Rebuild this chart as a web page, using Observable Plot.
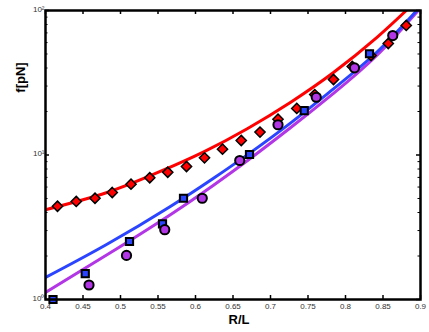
<!DOCTYPE html>
<html>
<head>
<meta charset="utf-8">
<script src="https://cdn.jsdelivr.net/npm/d3@7"></script>
<script src="https://cdn.jsdelivr.net/npm/@observablehq/plot@0.6"></script>
<style>
  html, body { margin: 0; padding: 0; background: #fff; }
  svg { display: block; }
</style>
</head>
<body>
<script>
// ---- data ----
// red diamonds
const diamondX = [0.416, 0.441, 0.466, 0.489, 0.514, 0.539, 0.563, 0.588, 0.612, 0.636, 0.661, 0.686, 0.710, 0.735, 0.759, 0.784, 0.809, 0.834, 0.857, 0.881];
const diamondF = [4.42, 4.77, 5.02, 5.50, 6.28, 6.96, 7.60, 8.33, 9.56, 10.97, 12.6, 14.4, 17.7, 21.0, 26.2, 33.3, 41.0, 48.8, 59.1, 78.8];
// blue-centred squares
const squareX = [0.410, 0.453, 0.512, 0.556, 0.584, 0.672, 0.745, 0.832];
const squareF = [1.0, 1.51, 2.52, 3.34, 5.02, 10.08, 20.3, 50.2];
// purple circles
const circleX = [0.458, 0.508, 0.559, 0.609, 0.659, 0.710, 0.761, 0.812, 0.863];
const circleF = [1.26, 2.02, 3.04, 5.02, 9.16, 16.2, 25.1, 40.1, 67.1];
// fitted curves
const redX = [0.400, 0.482, 0.553, 0.611, 0.669, 0.727, 0.784, 0.842, 0.881];
const redF = [4.18, 5.50, 7.69, 10.52, 15.2, 23.2, 37.2, 65.2, 100];
const blueX = [0.400, 0.482, 0.567, 0.624, 0.669, 0.727, 0.784, 0.842, 0.895];
const blueF = [1.42, 2.41, 4.42, 6.90, 10.02, 16.7, 28.7, 51.6, 100];
const purpleX = [0.400, 0.482, 0.567, 0.624, 0.669, 0.727, 0.784, 0.842, 0.897];
const purpleF = [1.12, 2.04, 3.88, 6.18, 9.12, 15.5, 26.7, 49.0, 100];
// ticks
const xTicks = [0.4, 0.45, 0.5, 0.55, 0.6, 0.65, 0.7, 0.75, 0.8, 0.85, 0.9];
const xTickLabels = ["0.4", "0.45", "0.5", "0.55", "0.6", "0.65", "0.7", "0.75", "0.8", "0.85", "0.9"];
const yMajor = [1, 10, 100];
const yMajorLabels = ["10\u2070", "10\u00B9", "10\u00B2"];
const yMinor = [2, 3, 4, 5, 6, 7, 8, 9, 20, 30, 40, 50, 60, 70, 80, 90];
const xLabel = "R/L";
const yLabel = "f[pN]";

const zip = (xs, ys) => xs.map((x, i) => ({x, y: ys[i]}));
const diamonds = zip(diamondX, diamondF);
const squares = zip(squareX, squareF);
const circles = zip(circleX, circleF);
const redLine = zip(redX, redF);
const blueLine = zip(blueX, blueF);
const purpleLine = zip(purpleX, purpleF);

const W = 429, H = 332;
const mL = 45, mR = 9, mT = 10, mB = 33;
const innerW = W - mL - mR, innerH = H - mT - mB;
const font = "'Liberation Sans', Arial, Helvetica, sans-serif";
const RED = "#ff0000", BLUE = "#2a44ff", PURPLE = "#b236e6";

const chart = Plot.plot({
  width: W, height: H,
  marginLeft: mL, marginRight: mR, marginTop: mT, marginBottom: mB,
  style: {fontFamily: font, background: "#fff"},
  x: {domain: [0.4, 0.9]},
  y: {type: "log", domain: [1, 100]},
  marks: [
    Plot.axisX({ticks: xTicks, tickSize: 0, tickPadding: 4, fontSize: 8, fill: "#333",
      tickFormat: (d) => xTickLabels[xTicks.indexOf(d)], label: null}),
    Plot.axisY({ticks: yMajor, tickSize: 0, tickPadding: 1, dy: -1.5, fontSize: 8, fill: "#333",
      tickFormat: (d) => yMajorLabels[yMajor.indexOf(d)], label: null}),
    // inward ticks
    Plot.ruleX(xTicks, {x: (d) => d, insetTop: innerH - 4, stroke: "black", strokeWidth: 1.5}),
    Plot.ruleX(xTicks, {x: (d) => d, insetBottom: innerH - 4, stroke: "black", strokeWidth: 1.5}),
    Plot.ruleY(yMajor, {y: (d) => d, insetRight: innerW - 4, stroke: "black", strokeWidth: 1.5}),
    Plot.ruleY(yMajor, {y: (d) => d, insetLeft: innerW - 4, stroke: "black", strokeWidth: 1.5}),
    Plot.ruleY(yMinor, {y: (d) => d, insetRight: innerW - 2.5, stroke: "black", strokeWidth: 1}),
    Plot.ruleY(yMinor, {y: (d) => d, insetLeft: innerW - 2.5, stroke: "black", strokeWidth: 1}),
    // curves
    Plot.line(redLine, {x: "x", y: "y", stroke: RED, strokeWidth: 3, curve: "natural", clip: true}),
    Plot.line(purpleLine, {x: "x", y: "y", stroke: PURPLE, strokeWidth: 3, curve: "natural", clip: true}),
    Plot.line(blueLine, {x: "x", y: "y", stroke: BLUE, strokeWidth: 3, curve: "natural", clip: true}),
    // markers
    Plot.dot(diamonds, {x: "x", y: "y", symbol: "diamond2", r: 4.6, fill: RED, stroke: "black", strokeWidth: 1.5}),
    Plot.dot(squares, {x: "x", y: "y", symbol: "square2", r: 4.6, fill: BLUE, stroke: "black", strokeWidth: 2}),
    Plot.dot(circles, {x: "x", y: "y", symbol: "circle", r: 4.6, fill: PURPLE, stroke: "black", strokeWidth: 2}),
    Plot.frame({stroke: "black", strokeWidth: 2.5}),
    // axis titles
    Plot.text([xLabel], {frameAnchor: "bottom", dx: 6, dy: 24, fontSize: 13, fontWeight: "bold", fill: "black", textAnchor: "middle"}),
    Plot.text([yLabel], {frameAnchor: "top-left", dx: -30, dy: 67, rotate: -90, fontSize: 13, fontWeight: "bold", fill: "black", textAnchor: "middle"})
  ]
});
document.body.appendChild(chart);
</script>
</body>
</html>
